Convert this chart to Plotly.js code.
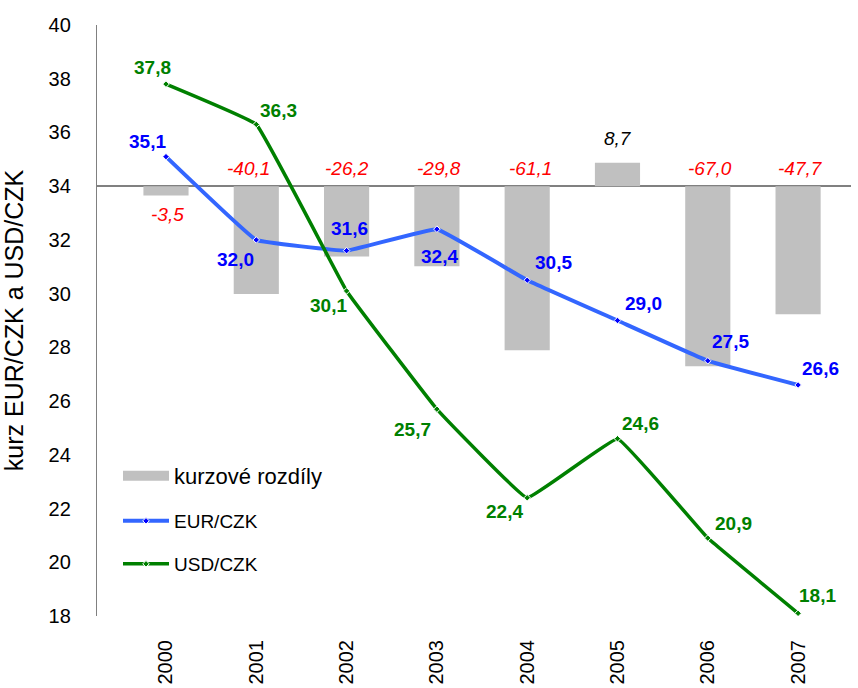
<!DOCTYPE html>
<html>
<head>
<meta charset="utf-8">
<script src="https://cdn.plot.ly/plotly-3.0.1.min.js"></script>
<style>html,body{margin:0;padding:0;background:#fff;}#chart{width:858px;height:688px;}</style>
</head>
<body>
<div id="chart"></div>
<script>
// ---- data ----
const years = ['2000', '2001', '2002', '2003', '2004', '2005', '2006', '2007'];
const eurCzk = [35.1, 32.0, 31.6, 32.4, 30.5, 29.0, 27.5, 26.6];
const usdCzk = [37.8, 36.3, 30.1, 25.7, 22.4, 24.6, 20.9, 18.1];
const kurzoveRozdily = [-3.5, -40.1, -26.2, -29.8, -61.1, 8.7, -67.0, -47.7];
const seriesNames = ['kurzové rozdíly', 'EUR/CZK', 'USD/CZK'];

// ---- label placement (styling only) ----
const eurLabelShift = [[-18, -15], [-21, 20], [3, -22], [3, 27], [26, -18], [26, -17], [23, -19], [22, -16]];
const usdLabelShift = [[-13, -17], [22, -14], [-18, 15], [-24, 20], [-23, 14], [23, -15], [26, -15], [19, -18]];
const barLabelShift = [[2, -28], [-8, 18], [0, 18], [2, 18], [3, 18], [1, 48], [2, 18], [2, 18]];

const fmt = v => v.toFixed(1).replace('.', ',');
const FONT = 'Liberation Sans, Arial, sans-serif';

const traces = [
  {
    type: 'bar', x: years, y: kurzoveRozdily, xaxis: 'x', yaxis: 'y',
    width: 0.5, marker: {color: '#c0c0c0'}, showlegend: false, hoverinfo: 'skip'
  },
  {
    type: 'scatter', mode: 'lines', x: [null], y: [null], xaxis: 'x', yaxis: 'y',
    name: seriesNames[0], legend: 'legend', line: {color: '#c0c0c0', width: 15}
  },
  {
    type: 'scatter', mode: 'lines+markers', x: years, y: eurCzk, xaxis: 'x', yaxis: 'y2',
    name: seriesNames[1], legend: 'legend2',
    line: {color: '#3366ff', width: 4, shape: 'spline', smoothing: 0.2},
    marker: {symbol: 'diamond', size: 5, color: '#0000ff', line: {color: '#ffffff', width: 1}}
  },
  {
    type: 'scatter', mode: 'lines+markers', x: years, y: usdCzk, xaxis: 'x', yaxis: 'y2',
    name: seriesNames[2], legend: 'legend3',
    line: {color: '#008000', width: 3.5, shape: 'spline', smoothing: 0.2},
    marker: {symbol: 'diamond', size: 5, color: '#008000', line: {color: '#ffffff', width: 1}}
  }
];

const annotations = [];
years.forEach((yr, i) => {
  annotations.push({
    x: i, y: eurCzk[i], xref: 'x', yref: 'y2', text: '<b>' + fmt(eurCzk[i]) + '</b>', showarrow: false,
    xshift: eurLabelShift[i][0], yshift: -eurLabelShift[i][1],
    font: {family: FONT, size: 19, color: '#0000ff'}
  });
  annotations.push({
    x: i, y: usdCzk[i], xref: 'x', yref: 'y2', text: '<b>' + fmt(usdCzk[i]) + '</b>', showarrow: false,
    xshift: usdLabelShift[i][0], yshift: -usdLabelShift[i][1],
    font: {family: FONT, size: 19, color: '#008000'}
  });
  annotations.push({
    x: i, y: 0, xref: 'x', yref: 'y', text: '<i>' + fmt(kurzoveRozdily[i]) + '</i>', showarrow: false,
    xshift: barLabelShift[i][0], yshift: barLabelShift[i][1],
    font: {family: FONT, size: 19, color: kurzoveRozdily[i] < 0 ? '#ff0000' : '#000000'}
  });
});

const legendBase = {
  xanchor: 'left', yanchor: 'middle',
  bgcolor: 'rgba(0,0,0,0)', borderwidth: 0, itemwidth: 46
};
const legX = (118 - 97) / 754;
const legY = py => (616 - py) / 591;

const layout = {
  width: 858, height: 688,
  margin: {l: 97, r: 7, t: 25, b: 72, pad: 0, autoexpand: false},
  paper_bgcolor: '#ffffff', plot_bgcolor: '#ffffff',
  font: {family: FONT, color: '#000000'},
  xaxis: {
    type: 'category', categoryorder: 'array', categoryarray: years,
    range: [-0.764, 7.586], showgrid: false, zeroline: false, showline: false, ticks: '',
    tickangle: -90, tickfont: {family: FONT, size: 20, color: '#000000'}, ticklabelstandoff: 19
  },
  yaxis: {
    range: [-160, 60], showgrid: false, showticklabels: false, ticks: '', showline: false,
    zeroline: true, zerolinecolor: '#808080', zerolinewidth: 1.5
  },
  yaxis2: {
    overlaying: 'y', side: 'left', range: [18, 40], dtick: 2, tick0: 18,
    showgrid: false, zeroline: false, showline: true, linecolor: '#808080', linewidth: 1.2,
    ticks: '', ticklabelstandoff: 21,
    tickfont: {family: FONT, size: 20, color: '#000000'},
    title: {text: 'kurz EUR/CZK a USD/CZK', font: {family: FONT, size: 25, color: '#000000'}, standoff: 17}
  },
  annotations: annotations,
  showlegend: true,
  legend: Object.assign({}, legendBase, {x: legX, y: legY(476), font: {family: FONT, size: 22, color: '#000000'}}),
  legend2: Object.assign({}, legendBase, {x: legX, y: legY(521), font: {family: FONT, size: 19, color: '#000000'}}),
  legend3: Object.assign({}, legendBase, {x: legX, y: legY(564), font: {family: FONT, size: 19, color: '#000000'}})
};

Plotly.newPlot('chart', traces, layout, {displayModeBar: false, staticPlot: true});
</script>
</body>
</html>
